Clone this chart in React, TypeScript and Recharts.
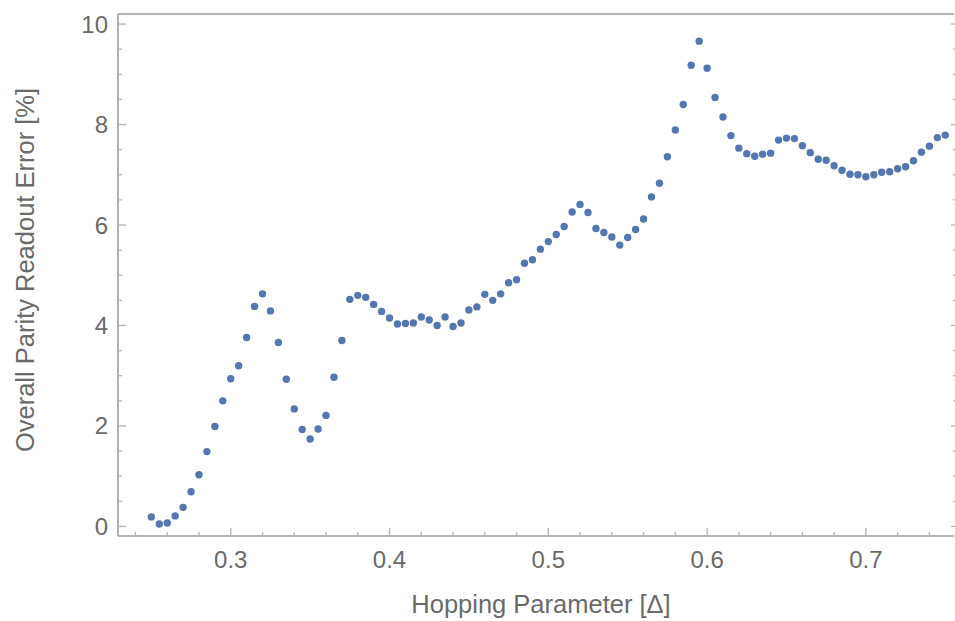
import { ScatterChart, Scatter, XAxis, YAxis } from "recharts";

// hopping parameter (in units of Delta)
const hopping = [
  0.25, 0.255, 0.26, 0.265, 0.27, 0.275, 0.28, 0.285, 0.29, 0.295,
  0.3, 0.305, 0.31, 0.315, 0.32, 0.325, 0.33, 0.335, 0.34, 0.345,
  0.35, 0.355, 0.36, 0.365, 0.37, 0.375, 0.38, 0.385, 0.39, 0.395,
  0.4, 0.405, 0.41, 0.415, 0.42, 0.425, 0.43, 0.435, 0.44, 0.445,
  0.45, 0.455, 0.46, 0.465, 0.47, 0.475, 0.48, 0.485, 0.49, 0.495,
  0.5, 0.505, 0.51, 0.515, 0.52, 0.525, 0.53, 0.535, 0.54, 0.545,
  0.55, 0.555, 0.56, 0.565, 0.57, 0.575, 0.58, 0.585, 0.59, 0.595,
  0.6, 0.605, 0.61, 0.615, 0.62, 0.625, 0.63, 0.635, 0.64, 0.645,
  0.65, 0.655, 0.66, 0.665, 0.67, 0.675, 0.68, 0.685, 0.69, 0.695,
  0.7, 0.705, 0.71, 0.715, 0.72, 0.725, 0.73, 0.735, 0.74, 0.745,
  0.75,
];

// overall parity readout error [%]
const readoutError = [
  0.19, 0.05, 0.07, 0.21, 0.38, 0.69, 1.03, 1.49, 1.99, 2.5,
  2.94, 3.2, 3.76, 4.38, 4.63, 4.29, 3.66, 2.93, 2.34, 1.93,
  1.74, 1.94, 2.21, 2.97, 3.7, 4.52, 4.6, 4.56, 4.42, 4.28,
  4.15, 4.03, 4.04, 4.05, 4.17, 4.11, 4.0, 4.17, 3.98, 4.05,
  4.31, 4.37, 4.62, 4.5, 4.63, 4.85, 4.91, 5.24, 5.31, 5.52,
  5.67, 5.81, 5.97, 6.26, 6.41, 6.25, 5.93, 5.85, 5.76, 5.6,
  5.75, 5.91, 6.12, 6.56, 6.83, 7.36, 7.89, 8.4, 9.18, 9.66,
  9.12, 8.54, 8.15, 7.78, 7.53, 7.42, 7.37, 7.41, 7.43, 7.69,
  7.73, 7.72, 7.58, 7.44, 7.31, 7.29, 7.18, 7.09, 7.01, 7.0,
  6.96, 7.0, 7.05, 7.06, 7.12, 7.16, 7.28, 7.45, 7.57, 7.74,
  7.79,
];

const xTicks = [
  0.24, 0.26, 0.28, 0.3, 0.32, 0.34, 0.36, 0.38, 0.4, 0.42, 0.44, 0.46, 0.48,
  0.5, 0.52, 0.54, 0.56, 0.58, 0.6, 0.62, 0.64, 0.66, 0.68, 0.7, 0.72, 0.74,
];
const xMajor = ["0.3", "0.4", "0.5", "0.6", "0.7"];

const yTicks = [
  0, 0.5, 1, 1.5, 2, 2.5, 3, 3.5, 4, 4.5, 5, 5.5, 6, 6.5, 7, 7.5, 8, 8.5, 9,
  9.5, 10,
];
const yMajor = ["0", "2", "4", "6", "8", "10"];

const data = hopping.map((h, i) => ({ h, err: readoutError[i] }));

const FRAME = "#b4b4b4";
const TEXT = "#6a6a6a";
const FONT = "'Liberation Sans', Arial, sans-serif";
const DOT = "#5577b0";

const BottomTick = (props: any) => {
  const { x, y, payload } = props;
  const major = xMajor.includes(String(payload.value));
  return (
    <g>
      <line x1={x} x2={x} y1={y} y2={y - (major ? 8 : 4)} stroke={FRAME} strokeWidth={1.3} />
      {major && (
        <text x={x} y={y + 23} textAnchor="middle" dominantBaseline="central" fill={TEXT} fontSize={24} fontFamily={FONT}>
          {payload.value}
        </text>
      )}
    </g>
  );
};

const TopTick = (props: any) => {
  const { x, y, payload } = props;
  const major = xMajor.includes(String(payload.value));
  return <line x1={x} x2={x} y1={y} y2={y + (major ? 8 : 4)} stroke={FRAME} strokeWidth={1.3} />;
};

const LeftTick = (props: any) => {
  const { x, y, payload } = props;
  const major = yMajor.includes(String(payload.value));
  return (
    <g>
      <line x1={x} x2={x + (major ? 8 : 4)} y1={y} y2={y} stroke={FRAME} strokeWidth={1.3} />
      {major && (
        <text x={x - 10} y={y} textAnchor="end" dominantBaseline="central" fill={TEXT} fontSize={24} fontFamily={FONT}>
          {payload.value}
        </text>
      )}
    </g>
  );
};

const RightTick = (props: any) => {
  const { x, y, payload } = props;
  const major = yMajor.includes(String(payload.value));
  return <line x1={x + 1} x2={x - (major ? 3 : 1)} y1={y} y2={y} stroke={FRAME} strokeWidth={1.3} />;
};

const Dot = (props: any) => <circle cx={props.cx} cy={props.cy} r={3.7} fill={DOT} />;

export default function App() {
  return (
    <div style={{ position: "absolute", left: 0, top: 0 }}>
      <ScatterChart width={955} height={621} margin={{ top: 0, right: 0, bottom: 0, left: 0 }}>
        <XAxis
          xAxisId="b"
          dataKey="h"
          type="number"
          domain={[0.229, 0.7555]}
          ticks={xTicks}
          interval={0}
          height={85}
          tickSize={0}
          tickMargin={0}
          tickLine={false}
          tick={<BottomTick />}
          axisLine={{ stroke: FRAME, strokeWidth: 2 }}
          allowDataOverflow
        />
        <XAxis
          xAxisId="t"
          orientation="top"
          type="number"
          domain={[0.229, 0.7555]}
          ticks={xTicks}
          interval={0}
          height={14}
          tickSize={0}
          tickMargin={0}
          tickLine={false}
          tick={<TopTick />}
          axisLine={{ stroke: FRAME, strokeWidth: 2 }}
          allowDataOverflow
        />
        <YAxis
          yAxisId="l"
          dataKey="err"
          type="number"
          domain={[-0.19, 10.2]}
          ticks={yTicks}
          interval={0}
          width={118}
          tickSize={0}
          tickMargin={0}
          tickLine={false}
          tick={<LeftTick />}
          axisLine={{ stroke: FRAME, strokeWidth: 2 }}
          allowDataOverflow
        />
        <YAxis
          yAxisId="r"
          orientation="right"
          type="number"
          domain={[-0.19, 10.2]}
          ticks={yTicks}
          interval={0}
          width={1}
          tickSize={0}
          tickMargin={0}
          tickLine={false}
          tick={<RightTick />}
          axisLine={false}
          allowDataOverflow
        />
        <Scatter data={data} xAxisId="b" yAxisId="l" shape={<Dot />} isAnimationActive={false} />
        <text x={541} y={604} textAnchor="middle" dominantBaseline="central" fill={TEXT} fontSize={25.5} fontFamily={FONT}>
          Hopping Parameter [Δ]
        </text>
        <text
          transform="translate(25,270) rotate(-90)"
          textAnchor="middle"
          dominantBaseline="central"
          fill={TEXT}
          fontSize={25.5}
          fontFamily={FONT}
        >
          Overall Parity Readout Error [%]
        </text>
      </ScatterChart>
    </div>
  );
}
